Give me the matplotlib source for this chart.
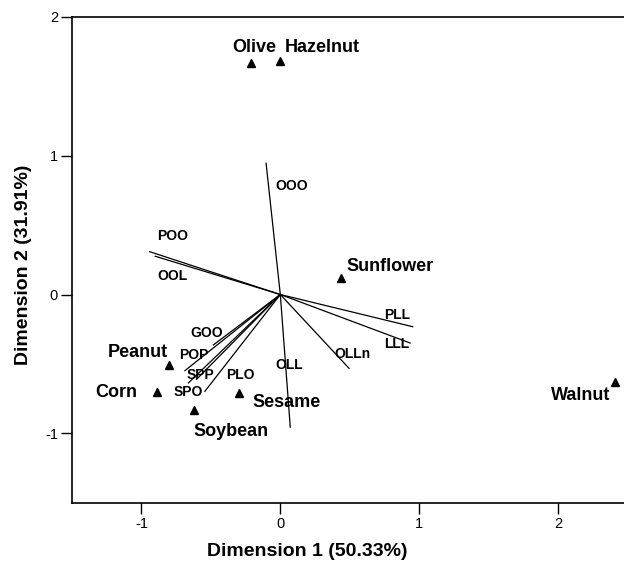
import matplotlib
matplotlib.use("Agg")
import matplotlib.pyplot as plt

plt.rcParams['font.family'] = ['Liberation Sans', 'DejaVu Sans']
plt.rcParams['axes.unicode_minus'] = False

# oils (row points)
oils = ['Olive', 'Hazelnut', 'Sunflower', 'Walnut', 'Peanut', 'Corn', 'Soybean', 'Sesame']
oil_x = [-0.21, 0.00, 0.44, 2.41, -0.80, -0.89, -0.62, -0.30]
oil_y = [1.665, 1.684, 0.12, -0.628, -0.506, -0.703, -0.834, -0.71]

# triacylglycerols (column vectors)
tags = ['OOO', 'OLL', 'POO', 'OOL', 'PLL', 'LLL', 'OLLn', 'GOO', 'POP', 'SPP', 'SPO', 'PLO']
tag_x = [-0.103, 0.072, -0.945, -0.905, 0.958, 0.939, 0.498, -0.486, -0.690, -0.606, -0.665, -0.546]
tag_y = [0.95, -0.96, 0.31, 0.277, -0.233, -0.351, -0.535, -0.366, -0.551, -0.614, -0.640, -0.701]

# label placement (layout only)
oil_offset = {'Olive': (3, 16), 'Hazelnut': (42, 13), 'Sunflower': (49, 11), 'Walnut': (-34, -14),
              'Peanut': (-31, 12), 'Corn': (-40, 0), 'Soybean': (37, -21), 'Sesame': (48, -9)}
tag_label = {'OOO': (0.085, 0.785), 'POO': (-0.773, 0.424), 'OOL': (-0.778, 0.13),
             'PLL': (0.843, -0.147), 'LLL': (0.838, -0.358), 'OLLn': (0.522, -0.431),
             'OLL': (0.065, -0.508), 'GOO': (-0.527, -0.279), 'POP': (-0.625, -0.438),
             'SPP': (-0.575, -0.58), 'SPO': (-0.665, -0.70), 'PLO': (-0.29, -0.58)}

fig = plt.figure(figsize=(6.24, 5.66), dpi=100)
ax = fig.add_axes([0.1154, 0.1118, 0.8902, 0.8583])

for name, x, y in zip(tags, tag_x, tag_y):
    ax.plot([0, x], [0, y], color='black', lw=0.9, solid_capstyle='butt')
    lx, ly = tag_label[name]
    ax.text(lx, ly, name, ha='center', va='center', fontsize=10, fontweight='bold')

ax.plot(oil_x, oil_y, linestyle='none', marker='^', color='black', markersize=6)
for name, x, y in zip(oils, oil_x, oil_y):
    ax.annotate(name, (x, y), xytext=oil_offset[name], textcoords='offset pixels',
                ha='center', va='center', fontsize=13, fontweight='bold')

ax.set_xlim(-1.5, 2.5)
ax.set_ylim(-1.5, 2.0)
ax.set_xticks([-1, 0, 1, 2])
ax.set_yticks([-1, 0, 1, 2])
ax.tick_params(direction='out', length=8, width=1, labelsize=10.5, pad=2)
ax.spines['right'].set_visible(False)
for s in ['left', 'bottom', 'top']:
    ax.spines[s].set_linewidth(1.2)

ax.set_xlabel('Dimension 1 (50.33%)', fontsize=14, fontweight='bold')
ax.set_ylabel('Dimension 2 (31.91%)', fontsize=14, fontweight='bold')
ax.xaxis.set_label_coords(0.423, -0.083)
ax.yaxis.set_label_coords(-0.072, 0.49)

fig.savefig('out.png', dpi=100)
